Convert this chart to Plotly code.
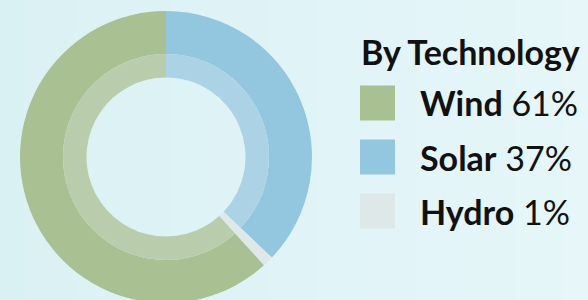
import plotly.graph_objects as go

# ---- data ----
technologies = ["Solar", "Hydro", "Wind"]          # drawing order (clockwise from 12 o'clock)
shares = [37.1, 1.2, 61.7]                          # slice sizes
legend_order = ["Wind", "Solar", "Hydro"]
legend_pct = [61, 37, 1]                            # percentages printed in the legend
legend_title = "By Technology"

# ---- styles ----
outer_colors = {"Solar": "#93c6df", "Hydro": "#dfe8e9", "Wind": "#a9c093"}
inner_colors = {"Solar": "#abd3e5", "Hydro": "#dfe8e9", "Wind": "#b9cdad"}

W, H = 588, 304
cx, cy = 166, 157
r_out, r_mid, r_in = 146, 103, 79.5
FS = 34

def dom(r):
    return dict(x=[(cx - r) / W, (cx + r) / W],
                y=[max(0, (H - (cy + r)) / H), (H - (cy - r)) / H])

fig = go.Figure()
fig.add_trace(go.Pie(
    labels=technologies, values=shares, sort=False, direction="clockwise",
    hole=r_mid / r_out, domain=dom(r_out), textinfo="none", hoverinfo="label+percent",
    marker=dict(colors=[outer_colors[t] for t in technologies], line=dict(width=0)),
    showlegend=False))
fig.add_trace(go.Pie(
    labels=technologies, values=shares, sort=False, direction="clockwise",
    hole=r_in / r_mid, domain=dom(r_mid), textinfo="none", hoverinfo="label+percent",
    marker=dict(colors=[inner_colors[t] for t in technologies], line=dict(width=0)),
    showlegend=False))

# background gradient (left -> right)
shapes = []
c0 = (0xda, 0xf1, 0xf4)
c1 = (0xe6, 0xf6, 0xf9)
n = 24
for i in range(n):
    t = i / (n - 1)
    col = "rgb(%d,%d,%d)" % tuple(round(a + (b - a) * t) for a, b in zip(c0, c1))
    shapes.append(dict(type="rect", xref="paper", yref="paper",
                       x0=i / n, x1=(i + 1) / n + 0.002, y0=0, y1=1,
                       fillcolor=col, line=dict(width=0), layer="below"))

annotations = [dict(text="<b>%s</b>" % legend_title, xref="paper", yref="paper",
                    x=359 / W, y=(H - 51) / H, xanchor="left", yanchor="middle",
                    showarrow=False, font=dict(family="Lato", size=FS, color="#111111"))]

row0, step, sq = 103, 54, 35
for i, (name, pct) in enumerate(zip(legend_order, legend_pct)):
    yc = row0 + i * step
    shapes.append(dict(type="rect", xref="paper", yref="paper",
                       x0=360 / W, x1=(360 + sq) / W,
                       y0=(H - (yc + sq / 2)) / H, y1=(H - (yc - sq / 2)) / H,
                       fillcolor=outer_colors[name], line=dict(width=0)))
    annotations.append(dict(text="<b>%s</b> %d%%" % (name, pct), xref="paper", yref="paper",
                            x=418 / W, y=(H - yc) / H, xanchor="left", yanchor="middle",
                            showarrow=False,
                            font=dict(family="Lato", size=FS, color="#111111")))

fig.update_layout(width=W, height=H, margin=dict(l=0, r=0, t=0, b=0),
                  paper_bgcolor="#e0f4f7", plot_bgcolor="rgba(0,0,0,0)",
                  shapes=shapes, annotations=annotations, showlegend=False)

fig.write_html("out.html", config={"displayModeBar": False}, post_script=(
    "document.body.style.margin='0';"
    "document.body.style.overflow='hidden';"
    "document.documentElement.style.overflow='hidden';"))
